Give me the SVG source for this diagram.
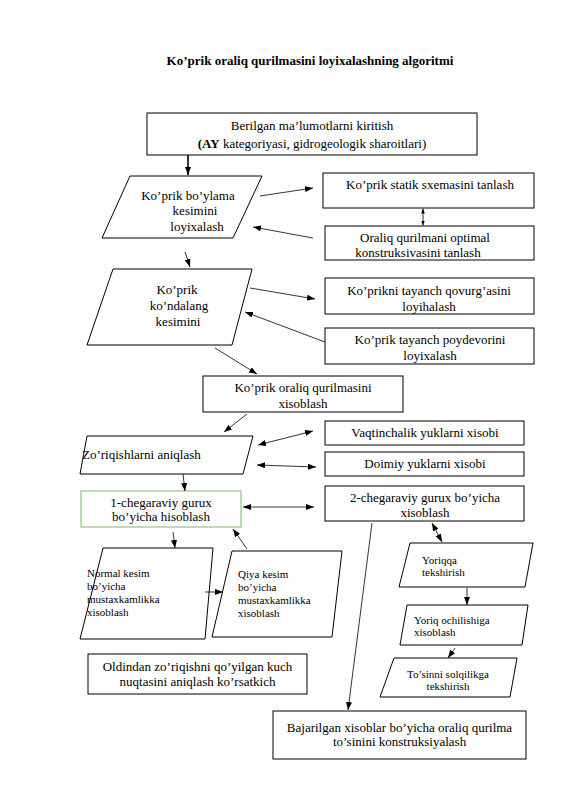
<svg xmlns="http://www.w3.org/2000/svg" width="565" height="800" viewBox="0 0 565 800">
<defs>
<marker id="ah" viewBox="0 0 8 6" refX="8" refY="3" markerWidth="8" markerHeight="6" markerUnits="userSpaceOnUse" orient="auto-start-reverse">
<path d="M0,0 L8,3 L0,6 Z" fill="#000"/>
</marker>
<marker id="ahs" viewBox="0 0 8 6" refX="8" refY="3" markerWidth="5" markerHeight="4" markerUnits="userSpaceOnUse" orient="auto-start-reverse">
<path d="M0,0 L8,3 L0,6 Z" fill="#000"/>
</marker>
</defs>
<style>
text{font-family:"Liberation Serif","Times New Roman",serif;font-size:13px;fill:#000}
.c{text-anchor:middle}
.s{font-size:11px}
.b{fill:#fff;stroke:#000;stroke-width:1}
.g{fill:#fff;stroke:#93c47d;stroke-width:1.2}
.l{fill:none;stroke:#000;stroke-width:0.8;marker-end:url(#ah)}
.d{fill:none;stroke:#000;stroke-width:0.8;marker-start:url(#ah);marker-end:url(#ah)}
</style>
<rect width="565" height="800" fill="#fff"/>
<text x="310" y="65" class="c" font-weight="bold">Ko’prik oraliq qurilmasini loyixalashning algoritmi</text>

<g id="n1"><rect class="b" x="147" y="113" width="330" height="42"/>
<text class="c" x="312" y="130">Berilgan ma’lumotlarni kiritish</text>
<text class="c" x="312" y="148"><tspan font-weight="bold">(AY</tspan> kategoriyasi, gidrogeologik sharoitlari)</text></g>

<g id="n2"><polygon class="b" points="130,176 262,176 233,238 102,238"/>
<text class="c" x="188" y="200">Ko’prik bo’ylama</text>
<text class="c" x="195" y="215">kesimini</text>
<text class="c" x="197" y="231">loyixalash</text></g>

<g id="n3"><rect class="b" x="323" y="173" width="211" height="35"/>
<text class="c" x="430" y="189">Ko’prik statik sxemasini tanlash</text></g>

<g id="n4"><rect class="b" x="325" y="226" width="209" height="34"/>
<text class="c" x="425" y="242">Oraliq qurilmani optimal</text>
<text class="c" x="418" y="257">konstruksivasini tanlash</text></g>

<g id="n5"><polygon class="b" points="113,269 252,269 232,345 87,345"/>
<text class="c" x="177" y="294">Ko’prik</text>
<text class="c" x="179" y="310">ko’ndalang</text>
<text class="c" x="178" y="326">kesimini</text></g>

<g id="n6"><rect class="b" x="325" y="278" width="209" height="36"/>
<text class="c" x="429" y="295">Ko’prikni tayanch qovurg’asini</text>
<text class="c" x="429" y="311">loyihalash</text></g>

<g id="n7"><rect class="b" x="325" y="328" width="209" height="36"/>
<text class="c" x="430" y="344">Ko’prik tayanch poydevorini</text>
<text class="c" x="430" y="360">loyixalash</text></g>

<g id="n8"><rect class="b" x="203" y="376" width="200" height="36"/>
<text class="c" x="303" y="392">Ko’prik oraliq qurilmasini</text>
<text class="c" x="303" y="408">xisoblash</text></g>

<g id="n9"><polygon class="b" points="87,436 253,436 243,474 80,474"/>
<text x="82" y="459">Zo’riqishlarni aniqlash</text></g>

<g id="n10"><rect class="b" x="325" y="421" width="199" height="24"/>
<text class="c" x="425" y="437">Vaqtinchalik yuklarni xisobi</text></g>

<g id="n11"><rect class="b" x="325" y="452" width="199" height="24"/>
<text class="c" x="425" y="468">Doimiy yuklarni xisobi</text></g>

<g id="n12"><rect class="b" x="325" y="486" width="199" height="35"/>
<text class="c" x="425" y="502">2-chegaraviy gurux bo’yicha</text>
<text class="c" x="425" y="517">xisoblash</text></g>

<g id="n13"><rect class="g" x="81" y="491" width="160" height="36"/>
<text class="c" x="161" y="507">1-chegaraviy gurux</text>
<text class="c" x="161" y="521">bo’yicha hisoblash</text></g>

<g id="n14"><polygon class="b" points="103,548 213,548 205,639 80,639"/>
<text class="s" x="87" y="577">Normal kesim</text>
<text class="s" x="87" y="590">bo’yicha</text>
<text class="s" x="87" y="603">mustaxkamlikka</text>
<text class="s" x="87" y="616">xisoblash</text></g>

<g id="n15"><polygon class="b" points="232,551 342,551 332,637 212,637"/>
<text class="s" x="238" y="578">Qiya kesim</text>
<text class="s" x="238" y="591">bo’yicha</text>
<text class="s" x="238" y="604">mustaxkamlikka</text>
<text class="s" x="238" y="617">xisoblash</text></g>

<g id="n16"><rect class="b" x="88" y="654" width="219" height="40"/>
<text class="c" x="197.5" y="671">Oldindan zo’riqishni qo’yilgan kuch</text>
<text class="c" x="197.5" y="686">nuqtasini aniqlash ko’rsatkich</text></g>

<g id="n17"><polygon class="b" points="410,543 533,543 525,587 399,587"/>
<text class="s" x="422" y="564">Yoriqqa</text>
<text class="s" x="422" y="576">tekshirish</text></g>

<g id="n18"><polygon class="b" points="407,605 528,605 522,645 400,645"/>
<text class="s" x="414" y="624">Yoriq ochilishiga</text>
<text class="s" x="414" y="636">xisoblash</text></g>

<g id="n19"><polygon class="b" points="394,658 517,658 510,697 380,697"/>
<text class="s c" x="448" y="678">To’sinni solqilikga</text>
<text class="s c" x="448" y="690">tekshirish</text></g>

<g id="n20"><rect class="b" x="273" y="711" width="253" height="48"/>
<text class="c" x="399.5" y="732">Bajarilgan xisoblar bo’yicha oraliq qurilma</text>
<text class="c" x="399.5" y="746">to’sinini konstruksiyalash</text></g>

<g id="connectors">
<line class="l" x1="188" y1="155" x2="188" y2="175" style="stroke-width:1.6"/>
<line class="l" x1="260" y1="196" x2="313" y2="188"/>
<line x1="423" y1="208.5" x2="423" y2="225.5" style="fill:none;stroke:#000;stroke-width:0.8;marker-start:url(#ahs);marker-end:url(#ahs)"/>
<line class="l" x1="313" y1="238" x2="253" y2="227"/>
<line class="l" x1="185" y1="252" x2="190" y2="267"/>
<line class="l" x1="250" y1="288" x2="315" y2="299"/>
<line class="l" x1="325" y1="342" x2="245" y2="312"/>
<line class="l" x1="215" y1="348" x2="257" y2="374"/>
<line class="l" x1="247" y1="414" x2="224" y2="432"/>
<line class="d" x1="258" y1="445" x2="313" y2="431"/>
<line class="d" x1="257" y1="465" x2="316" y2="467"/>
<line class="l" x1="183" y1="474" x2="185" y2="491"/>
<line class="d" x1="243" y1="507" x2="314" y2="507"/>
<line class="d" x1="432" y1="523" x2="442" y2="542"/>
<line class="l" x1="372" y1="523" x2="348" y2="710"/>
<line class="l" x1="173" y1="532" x2="175" y2="548"/>
<line class="l" x1="247" y1="549" x2="233" y2="529"/>
<line class="l" x1="205" y1="592" x2="223" y2="592"/>
<line class="l" x1="467" y1="588" x2="467" y2="605"/>
<line class="l" x1="455" y1="648" x2="448" y2="658"/>
</g>
</svg>
